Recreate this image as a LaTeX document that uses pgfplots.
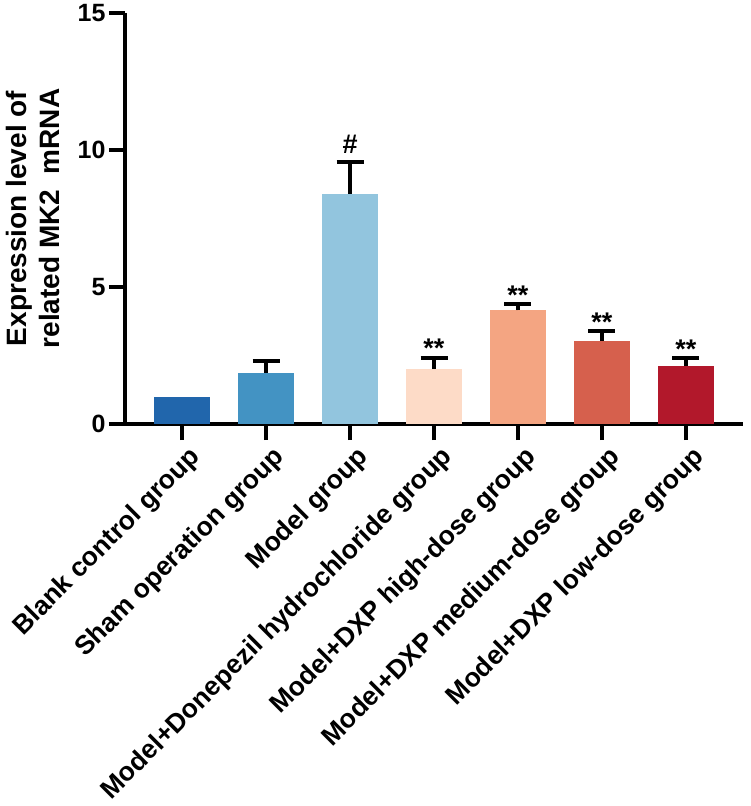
\documentclass[border=0pt]{standalone}
\usepackage{fontspec}
\setmainfont{Liberation Sans}
\usepackage{pgfplots}
\pgfplotsset{compat=1.18}
\definecolor{c1}{HTML}{2166AC}
\definecolor{c2}{HTML}{4393C3}
\definecolor{c3}{HTML}{92C5DE}
\definecolor{c4}{HTML}{FDDBC7}
\definecolor{c5}{HTML}{F4A582}
\definecolor{c6}{HTML}{D6604D}
\definecolor{c7}{HTML}{B2182B}
\newcommand{\bigf}{\fontsize{25}{30}\selectfont\bfseries}
\newcommand{\labf}{\fontsize{26.5}{30}\selectfont\bfseries}
\newcommand{\ylabf}{\fontsize{28}{33}\selectfont\bfseries}
\pgfplotsset{
  errb/.style={error bars/.cd, y dir=plus, y explicit,
    error bar style={line width=4pt, black},
    error mark options={line width=4pt, black, mark size=13.5pt, rotate=90}}
}
\begin{document}
\begin{tikzpicture}
\begin{axis}[
  scale only axis, width=618pt, height=411pt,
  xmin=-0.68, xmax=6.68, ymin=0, ymax=15,
  axis lines*=left,
  axis line style={line width=4pt, black},
  ytick={0,5,10,15}, xtick={0,1,2,3,4,5,6},
  xticklabels={Blank control group, Sham operation group, Model group,
    Model+Donepezil hydrochloride group, Model+DXP high-dose group,
    Model+DXP medium-dose group, Model+DXP low-dose group},
  tick align=outside, major tick length=16pt,
  tick style={line width=4pt, black},
  yticklabel style={font=\bigf},
  /pgf/number format/assume math mode=true,
  xticklabel style={font=\labf, rotate=45, anchor=north east, inner sep=0pt, yshift=-7pt, xshift=1pt},
  ylabel={Expression level of\\related MK2~~mRNA},
  ylabel style={align=center, font=\ylabf, at={(axis description cs:-0.149,0.5)}, anchor=center},
  ybar, bar width=56pt, bar shift=0pt,
  clip=false,
]
\addplot[fill=c1, draw=none] coordinates {(0,1.0)};
\addplot[fill=c2, draw=none, errb] coordinates {(1,1.87) +- (0,0.44)};
\addplot[fill=c3, draw=none, errb] coordinates {(2,8.40) +- (0,1.15)};
\addplot[fill=c4, draw=none, errb] coordinates {(3,2.00) +- (0,0.42)};
\addplot[fill=c5, draw=none, errb] coordinates {(4,4.15) +- (0,0.22)};
\addplot[fill=c6, draw=none, errb] coordinates {(5,3.03) +- (0,0.36)};
\addplot[fill=c7, draw=none, errb] coordinates {(6,2.13) +- (0,0.27)};
\node[font=\fontsize{27}{30}\selectfont\bfseries, anchor=base, yshift=9pt] at (axis cs:2,9.55) {\#};
\node[font=\fontsize{27}{30}\selectfont\bfseries, anchor=base] at (axis cs:3,2.42) {**};
\node[font=\fontsize{27}{30}\selectfont\bfseries, anchor=base] at (axis cs:4,4.37) {**};
\node[font=\fontsize{27}{30}\selectfont\bfseries, anchor=base] at (axis cs:5,3.39) {**};
\node[font=\fontsize{27}{30}\selectfont\bfseries, anchor=base] at (axis cs:6,2.40) {**};
\end{axis}
\pgfresetboundingbox
\path (-125pt,-382pt) rectangle (625pt,424pt);
\end{tikzpicture}
\end{document}
